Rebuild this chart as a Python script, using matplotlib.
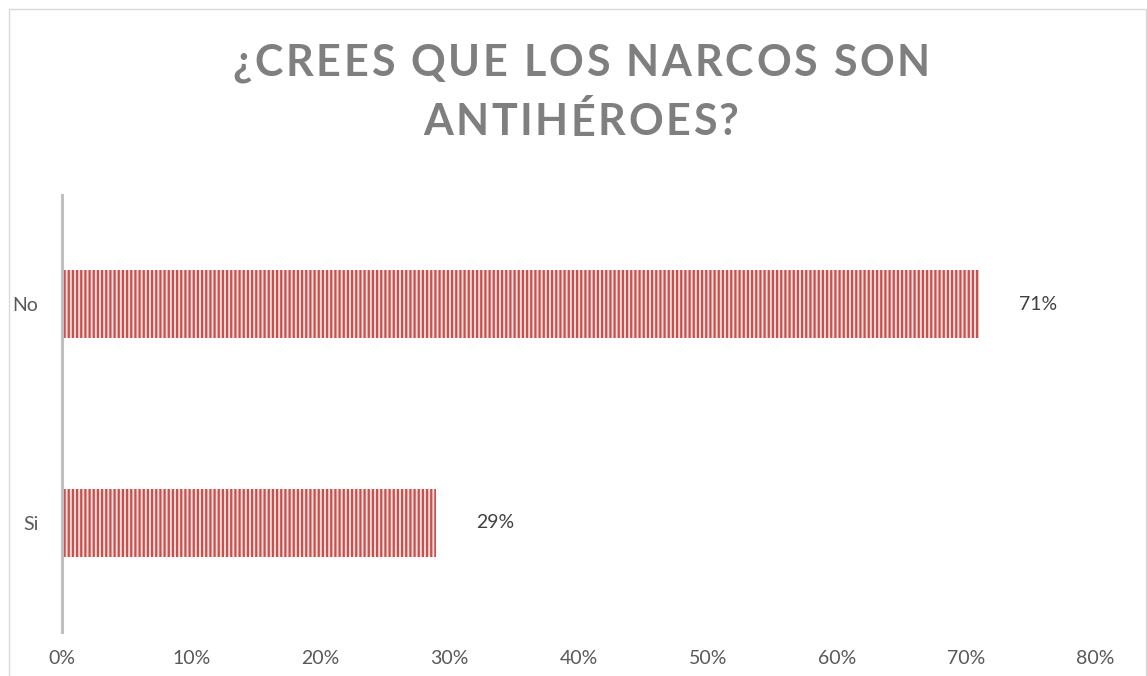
import matplotlib
matplotlib.use("Agg")
import matplotlib.pyplot as plt
from matplotlib.patches import Rectangle
from matplotlib.ticker import PercentFormatter

# datos
categorias = ["Si", "No"]
valores = [29, 71]
etiquetas = ["29%", "71%"]
titulo = ["¿CREES QUE LOS NARCOS SON", "ANTIHÉROES?"]
ticks_x = [0, 10, 20, 30, 40, 50, 60, 70, 80]

plt.rcParams["font.family"] = ["Lato", "DejaVu Sans"]
plt.rcParams["hatch.linewidth"] = 1.6

W, H = 1147, 676
fig = plt.figure(figsize=(W / 100, H / 100), dpi=100)

# marco del grafico
fig.patches.append(Rectangle((9 / W, -0.05), (1146 - 9) / W, 1.05 - 9 / H,
                             transform=fig.transFigure, fill=False,
                             edgecolor="#D9D9D9", linewidth=1))

ax = fig.add_axes([62 / W, 44 / H, (1095 - 62) / W, (632 - 195) / H])
ax.barh(categorias, valores, height=0.31, color="#F4DEDD",
        edgecolor="#C94F4C", hatch="||||", linewidth=0)

for y, (v, t) in enumerate(zip(valores, etiquetas)):
    ax.annotate(t, (v, y), xytext=(40, 0), textcoords="offset pixels",
                ha="left", va="center", fontsize=14, color="#404040")

ax.set_xlim(0, 80)
ax.set_ylim(-0.5, 1.5)
ax.set_xticks(ticks_x)
ax.xaxis.set_major_formatter(PercentFormatter(decimals=0))
for s in ["top", "right", "bottom"]:
    ax.spines[s].set_visible(False)
ax.spines["left"].set_color("#BFBFBF")
ax.spines["left"].set_linewidth(2.2)
ax.tick_params(axis="both", length=0, labelsize=14, labelcolor="#595959")
ax.tick_params(axis="x", pad=13)
ax.tick_params(axis="y", pad=17)

# titulo con espaciado entre letras
renderer = fig.canvas.get_renderer()


def ancho(s, **kw):
    t = fig.text(0, 0, s, **kw)
    w = t.get_window_extent(renderer).width
    t.remove()
    return w


def texto_espaciado(linea, xc, yc, ancho_total, **kw):
    base = ancho("HH", **kw)
    avances = [ancho("H" + c + "H", **kw) - base for c in linea]
    esp = (ancho_total - sum(avances)) / (len(linea) - 1)
    esp = max(esp, 0)
    total = sum(avances) + esp * (len(linea) - 1)
    x = xc - total / 2
    for c, a in zip(linea, avances):
        fig.text(x / W, 1 - yc / H, c, ha="left", va="center", **kw)
        x += a + esp


estilo = dict(fontsize=31, fontweight="bold", color="#7F7F7F")
texto_espaciado(titulo[0], 581, 63, 698, **estilo)
texto_espaciado(titulo[1], 581, 122, 315, **estilo)

fig.savefig("out.png", dpi=100)
